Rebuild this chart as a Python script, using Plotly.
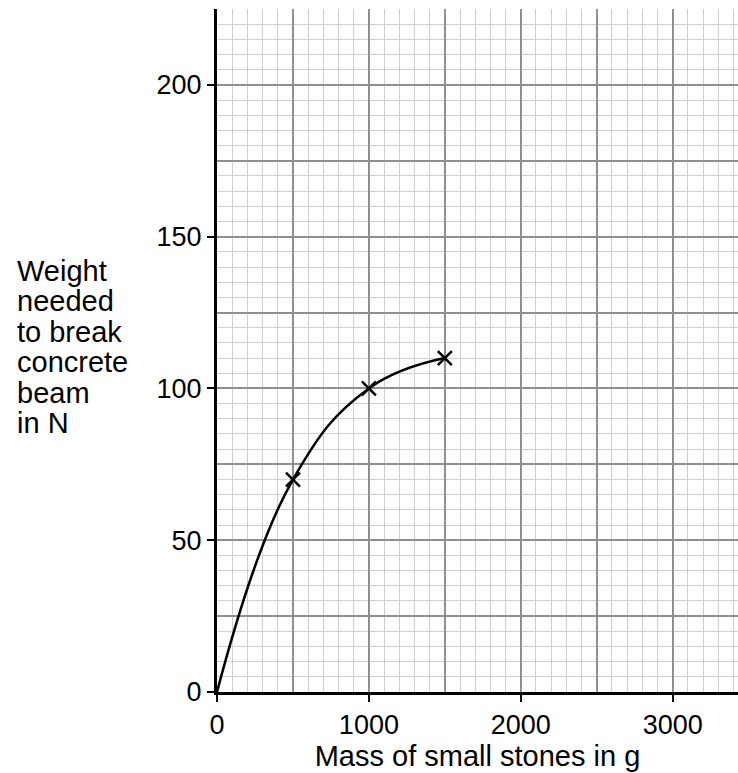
import plotly.graph_objects as go

# Data
mass_g = [500, 1000, 1500]
weight_n = [70, 100, 110]
curve_mass = [0, 500, 1000, 1500]
curve_weight = [0, 70, 100, 110]
x_tick_vals = [0, 1000, 2000, 3000]
y_tick_vals = [0, 50, 100, 150, 200]
y_title_lines = ["Weight", "needed", "to break", "concrete", "beam", "in N"]

FONT = "Liberation Sans, Arial, sans-serif"
W, H = 738, 773
ML, MR, MT, MB = 217, 0, 9, 81
XR = [0, 3430]
YR = [0, 225]

fig = go.Figure()

# medium grid on overlay axes
fig.add_trace(go.Scatter(x=[None], y=[None], xaxis="x2", yaxis="y2", showlegend=False, hoverinfo="skip"))

fig.add_trace(go.Scatter(
    x=curve_mass, y=curve_weight, mode="lines",
    line=dict(color="black", width=2.5, shape="spline", smoothing=1.2),
    showlegend=False, hoverinfo="skip"))

fig.add_trace(go.Scatter(
    x=mass_g, y=weight_n, mode="markers",
    marker=dict(symbol="x-thin", size=14, line=dict(color="black", width=2.5)),
    showlegend=False))

fig.update_layout(
    width=W, height=H,
    margin=dict(l=ML, r=MR, t=MT, b=MB),
    paper_bgcolor="white", plot_bgcolor="white",
    font=dict(family=FONT, size=28, color="black"),
    xaxis=dict(
        range=XR, tickvals=x_tick_vals, ticks="outside", ticklen=7, tickwidth=1.5,
        tickcolor="black", showgrid=False, zeroline=False,
        showline=True, linecolor="black", linewidth=3,
        tickfont=dict(size=27),
        minor=dict(dtick=100, showgrid=True, gridcolor="#cfcfcf", gridwidth=1, ticks=""),
        title=dict(text="Mass of small stones in g", font=dict(size=29), standoff=2),
    ),
    yaxis=dict(
        range=YR, tickvals=y_tick_vals, ticks="outside", ticklen=7, tickwidth=1.5,
        tickcolor="black", showgrid=False, zeroline=False,
        showline=True, linecolor="black", linewidth=3,
        tickfont=dict(size=27),
        minor=dict(dtick=5, showgrid=True, gridcolor="#cfcfcf", gridwidth=1, ticks=""),
    ),
    xaxis2=dict(range=XR, dtick=500, tick0=0, overlaying="x", showgrid=True,
                gridcolor="#8f8f8f", gridwidth=1.6, showticklabels=False,
                zeroline=False, showline=False, ticks=""),
    yaxis2=dict(range=YR, dtick=25, tick0=0, overlaying="y", showgrid=True,
                gridcolor="#8f8f8f", gridwidth=1.6, showticklabels=False,
                zeroline=False, showline=False, ticks=""),
)

# Y-axis label lines (positions in page pixels, converted to paper coords)
plot_h = H - MT - MB
plot_w = W - ML - MR
first_center_px = 271
line_step = 30.4
for i, txt in enumerate(y_title_lines):
    y_px = first_center_px + i * line_step
    fig.add_annotation(
        text=txt, xref="paper", yref="paper",
        x=(15 - ML) / plot_w, y=(H - MB - y_px) / plot_h,
        xanchor="left", yanchor="middle", showarrow=False,
        font=dict(family=FONT, size=29, color="black"), align="left")

fig.write_html("out.html", config={"displayModeBar": False},
               post_script="document.body.style.margin='0';document.body.style.overflow='hidden';")
